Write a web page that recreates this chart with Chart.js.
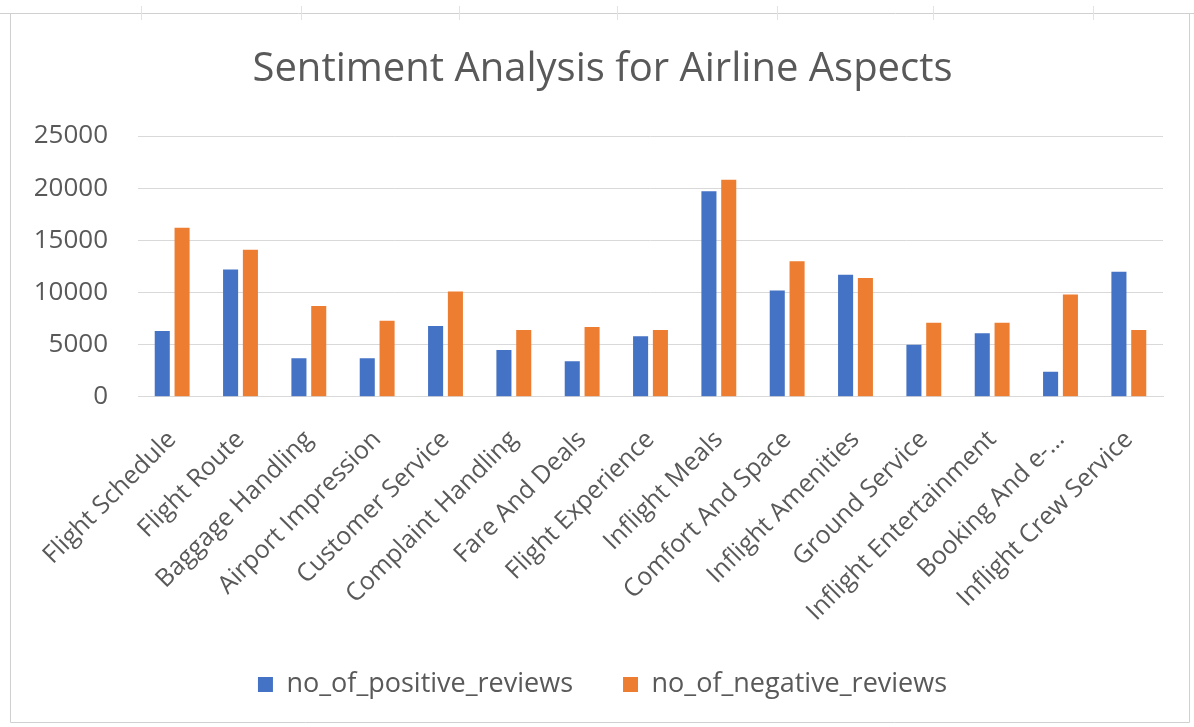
<!DOCTYPE html>
<html>
<head>
<meta charset="utf-8">
<script src="https://cdn.jsdelivr.net/npm/chart.js@4.4.1/dist/chart.umd.min.js"></script>
<style>
  html, body { margin: 0; padding: 0; background: #ffffff; }
  #wrap { position: relative; width: 1194px; height: 727px; }
  canvas { display: block; }
</style>
</head>
<body>
<div id="wrap"><canvas id="c" width="1194" height="727"></canvas></div>
<script>
const categories = [
  "Flight Schedule", "Flight Route", "Baggage Handling", "Airport Impression",
  "Customer Service", "Complaint Handling", "Fare And Deals", "Flight Experience",
  "Inflight Meals", "Comfort And Space", "Inflight Amenities", "Ground Service",
  "Inflight Entertainment", "Booking And e-\u2026", "Inflight Crew Service"
];
const positiveReviews = [6300, 12200, 3700, 3700, 6800, 4500, 3400, 5800, 19700, 10200, 11700, 5000, 6100, 2400, 12000];
const negativeReviews = [16200, 14100, 8700, 7300, 10100, 6400, 6700, 6400, 20800, 13000, 11400, 7100, 7100, 9800, 6400];
const seriesNames = ["no_of_positive_reviews", "no_of_negative_reviews"];
const titleText = "Sentiment Analysis for Airline Aspects";

const TEXT = "#595959";
const GRID = "#D9D9D9";
const FONT = "'Open Sans', 'Noto Sans', sans-serif";
const LEGEND_TRIM = 34;
const CENTER_SHIFT = 17;

const framePlugin = {
  id: "frame",
  afterInit(chart) {
    const lg = chart.legend;
    if (lg && !lg._patched) {
      lg._patched = true;
      const origFit = lg.fit.bind(lg);
      lg.fit = function () { origFit(); this.height -= LEGEND_TRIM; };
      const origDraw = lg.draw.bind(lg);
      lg.draw = function () {
        const t = this.top;
        this.top = t - LEGEND_TRIM;
        this.ctx.save();
        this.ctx.translate(CENTER_SHIFT, 0);
        origDraw();
        this.ctx.restore();
        this.top = t;
      };
    }
    const tb = chart.titleBlock;
    if (tb && !tb._patched) {
      tb._patched = true;
      const origTDraw = tb.draw.bind(tb);
      tb.draw = function () {
        this.ctx.save();
        this.ctx.translate(CENTER_SHIFT, 0);
        origTDraw();
        this.ctx.restore();
      };
    }
  },
  beforeDraw(chart) {
    const ctx = chart.ctx;
    ctx.save();
    ctx.strokeStyle = "#D0D0D0";
    ctx.lineWidth = 1;
    ctx.beginPath();
    ctx.moveTo(0, 13.5); ctx.lineTo(1194, 13.5);
    ctx.moveTo(10.5, 13.5); ctx.lineTo(10.5, 722.5);
    ctx.moveTo(10.5, 722.5); ctx.lineTo(1189.5, 722.5);
    ctx.moveTo(1189.5, 13.5); ctx.lineTo(1189.5, 722.5);
    ctx.stroke();
    ctx.strokeStyle = "#E3E3E3";
    ctx.beginPath();
    [141, 301, 459, 617, 777, 933, 1093].forEach(x => {
      ctx.moveTo(x + 0.5, 6); ctx.lineTo(x + 0.5, 20);
    });
    ctx.stroke();
    ctx.restore();
  }
};

new Chart(document.getElementById("c"), {
  type: "bar",
  data: {
    labels: categories,
    datasets: [
      { label: seriesNames[0], data: positiveReviews, backgroundColor: "#4472C4",
        categoryPercentage: 0.58, barPercentage: 0.76 },
      { label: seriesNames[1], data: negativeReviews, backgroundColor: "#ED7D31",
        categoryPercentage: 0.58, barPercentage: 0.76 }
    ]
  },
  options: {
    responsive: false,
    animation: false,
    devicePixelRatio: 1,
    layout: { padding: { left: 8, right: 31, top: 0, bottom: 19 } },
    plugins: {
      title: {
        display: true,
        text: titleText,
        color: TEXT,
        font: { family: FONT, size: 40, weight: "normal" },
        padding: { top: 46, bottom: 42 }
      },
      legend: {
        position: "bottom",
        labels: {
          color: TEXT,
          font: { family: FONT, size: 27 },
          boxWidth: 15,
          boxHeight: 15,
          padding: 50
        }
      },
      tooltip: { enabled: false }
    },
    scales: {
      x: {
        grid: { display: false, drawTicks: false },
        border: { display: true, color: GRID },
        ticks: {
          color: TEXT,
          font: { family: FONT, size: 25 },
          maxRotation: 45,
          minRotation: 45,
          autoSkip: false,
          padding: 28
        }
      },
      y: {
        min: 0,
        max: 25000,
        afterFit(scale) { scale.width = 130; },
        grid: { color: GRID, drawTicks: false },
        border: { display: false },
        ticks: {
          stepSize: 5000,
          color: TEXT,
          font: { family: FONT, size: 26 },
          padding: 30,
          callback: v => String(v)
        }
      }
    }
  },
  plugins: [framePlugin]
});
</script>
</body>
</html>
